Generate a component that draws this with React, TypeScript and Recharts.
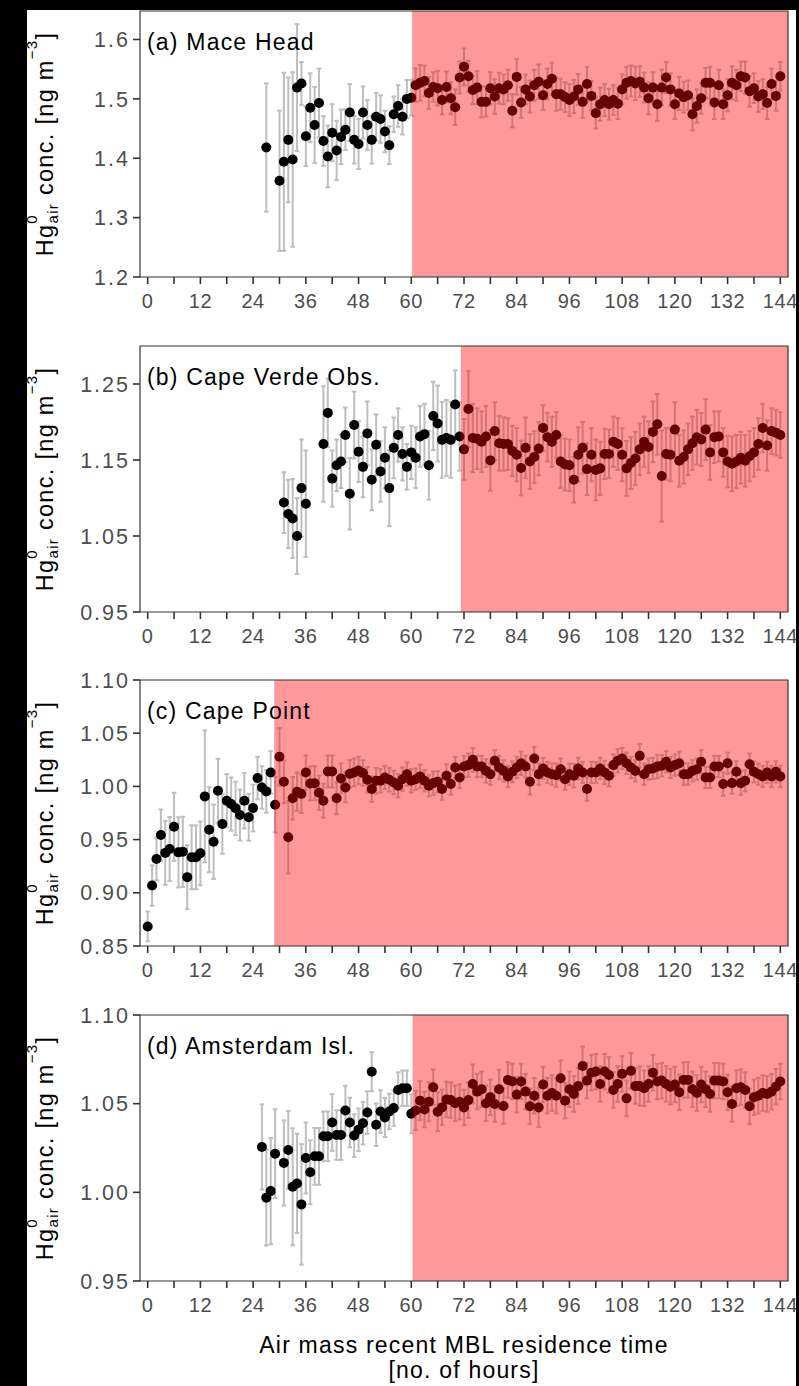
import React from 'react';
import { ScatterChart, Scatter, XAxis, YAxis, ErrorBar, ReferenceArea } from 'recharts';

const FONT = '"Liberation Sans", Arial, Helvetica, sans-serif';

// shared x axis (hours)
const hourTicks = [0, 6, 12, 18, 24, 30, 36, 42, 48, 54, 60, 66, 72, 78, 84, 90, 96, 102, 108, 114, 120, 126, 132, 138, 144];
const X_DOMAIN: [number, number] = [-1.75, 145.75];

// (a) Mace Head
const maceHours = [
  27, 30, 31, 32, 33, 34, 35, 36, 37, 38, 39, 40, 41, 42, 43, 44, 45, 46, 47, 48,
  49, 50, 51, 52, 53, 54, 55, 56, 57, 58, 59, 60, 61, 62, 63, 64, 65, 66, 67, 68,
  69, 70, 71, 72, 73, 74, 75, 76, 77, 78, 79, 80, 81, 82, 83, 84, 85, 86, 87, 88,
  89, 90, 91, 92, 93, 94, 95, 96, 97, 98, 99, 100, 101, 102, 103, 104, 105, 106, 107, 108,
  109, 110, 111, 112, 113, 114, 115, 116, 117, 118, 119, 120, 121, 122, 123, 124, 125, 126, 127, 128,
  129, 130, 131, 132, 133, 134, 135, 136, 137, 138, 139, 140, 141, 142, 143, 144,
];
const maceValues = [
  1.418, 1.362, 1.394, 1.431, 1.398, 1.519, 1.526, 1.437, 1.485, 1.456, 1.493, 1.429, 1.403, 1.443, 1.413, 1.436, 1.448, 1.477, 1.431, 1.424,
  1.477, 1.456, 1.431, 1.470, 1.466, 1.445, 1.422, 1.474, 1.488, 1.470, 1.500, 1.502, 1.523, 1.527, 1.530, 1.510, 1.520, 1.518, 1.498, 1.520,
  1.501, 1.486, 1.536, 1.554, 1.538, 1.515, 1.519, 1.495, 1.495, 1.518, 1.504, 1.518, 1.516, 1.523, 1.480, 1.537, 1.494, 1.516, 1.504, 1.523,
  1.529, 1.506, 1.525, 1.534, 1.508, 1.508, 1.503, 1.498, 1.504, 1.516, 1.495, 1.525, 1.505, 1.476, 1.491, 1.498, 1.491, 1.498, 1.492, 1.516,
  1.527, 1.530, 1.526, 1.529, 1.519, 1.501, 1.519, 1.491, 1.519, 1.536, 1.516, 1.491, 1.509, 1.503, 1.506, 1.474, 1.488, 1.501, 1.527, 1.527,
  1.494, 1.523, 1.491, 1.506, 1.527, 1.523, 1.538, 1.536, 1.513, 1.518, 1.504, 1.508, 1.493, 1.525, 1.505, 1.538,
];
const maceErrors = [
  0.108, 0.118, 0.150, 0.105, 0.147, 0.107, 0.036, 0.050, 0.058, 0.064, 0.058, 0.042, 0.052, 0.048, 0.050, 0.046, 0.034, 0.048, 0.040, 0.042,
  0.044, 0.042, 0.040, 0.040, 0.040, 0.035, 0.032, 0.030, 0.035, 0.030, 0.032, 0.030, 0.028, 0.030, 0.026, 0.027, 0.025, 0.029, 0.024, 0.026,
  0.027, 0.030, 0.027, 0.031, 0.026, 0.024, 0.028, 0.026, 0.025, 0.027, 0.029, 0.026, 0.025, 0.026, 0.028, 0.030, 0.026, 0.025, 0.027, 0.026,
  0.029, 0.025, 0.026, 0.027, 0.028, 0.026, 0.025, 0.027, 0.028, 0.026, 0.027, 0.029, 0.025, 0.026, 0.028, 0.027, 0.026, 0.025, 0.026, 0.025,
  0.027, 0.026, 0.028, 0.026, 0.025, 0.027, 0.026, 0.028, 0.030, 0.026, 0.027, 0.025, 0.028, 0.026, 0.025, 0.027, 0.028, 0.026, 0.025, 0.027,
  0.028, 0.026, 0.025, 0.027, 0.028, 0.026, 0.025, 0.027, 0.026, 0.025, 0.026, 0.025, 0.027, 0.026, 0.025, 0.024,
];

// (b) Cape Verde Obs.
const verdeHours = [
  31, 32, 33, 34, 35, 36, 40, 41, 42, 43, 44, 45, 46, 47, 48, 49, 50, 51, 52, 53,
  54, 55, 56, 57, 58, 59, 60, 61, 62, 63, 64, 65, 66, 67, 68, 69, 70, 71, 72, 73,
  74, 75, 76, 77, 78, 79, 80, 81, 82, 83, 84, 85, 86, 87, 88, 89, 90, 91, 92, 93,
  94, 95, 96, 97, 98, 99, 100, 101, 102, 103, 104, 105, 106, 107, 108, 109, 110, 111, 112, 113,
  114, 115, 116, 117, 118, 119, 120, 121, 122, 123, 124, 125, 126, 127, 128, 129, 130, 131, 132, 133,
  134, 135, 136, 137, 138, 139, 140, 141, 142, 143, 144,
];
const verdeValues = [
  1.094, 1.079, 1.073, 1.050, 1.113, 1.0925, 1.171, 1.212, 1.1255, 1.143, 1.148, 1.183, 1.1055, 1.196, 1.161, 1.141, 1.185, 1.124, 1.170, 1.135,
  1.153, 1.113, 1.166, 1.183, 1.158, 1.141, 1.160, 1.153, 1.181, 1.184, 1.143, 1.208, 1.198, 1.1765, 1.179, 1.1765, 1.223, 1.181, 1.164, 1.217,
  1.179, 1.178, 1.174, 1.181, 1.1495, 1.188, 1.172, 1.171, 1.171, 1.162, 1.157, 1.1395, 1.166, 1.148, 1.154, 1.165, 1.192, 1.180, 1.174, 1.183,
  1.148, 1.144, 1.143, 1.124, 1.157, 1.166, 1.138, 1.157, 1.137, 1.139, 1.158, 1.158, 1.174, 1.171, 1.157, 1.139, 1.146, 1.152, 1.164, 1.174,
  1.167, 1.187, 1.197, 1.129, 1.158, 1.157, 1.190, 1.149, 1.154, 1.164, 1.172, 1.180, 1.177, 1.190, 1.160, 1.180, 1.181, 1.160, 1.148, 1.145,
  1.148, 1.153, 1.149, 1.155, 1.160, 1.171, 1.192, 1.169, 1.188, 1.186, 1.183,
];
const verdeErrors = [
  0.040, 0.045, 0.052, 0.050, 0.064, 0.070, 0.076, 0.045, 0.037, 0.034, 0.035, 0.036, 0.047, 0.044, 0.040, 0.040, 0.042, 0.040, 0.040, 0.040,
  0.040, 0.050, 0.040, 0.035, 0.035, 0.030, 0.035, 0.040, 0.040, 0.040, 0.045, 0.045, 0.050, 0.050, 0.050, 0.050, 0.045, 0.045, 0.040, 0.050,
  0.045, 0.040, 0.040, 0.040, 0.040, 0.038, 0.036, 0.035, 0.034, 0.033, 0.035, 0.036, 0.040, 0.036, 0.034, 0.035, 0.030, 0.032, 0.033, 0.030,
  0.035, 0.034, 0.034, 0.030, 0.036, 0.034, 0.034, 0.035, 0.040, 0.035, 0.033, 0.032, 0.033, 0.034, 0.035, 0.036, 0.034, 0.035, 0.034, 0.033,
  0.034, 0.040, 0.040, 0.060, 0.034, 0.035, 0.036, 0.034, 0.035, 0.034, 0.035, 0.036, 0.035, 0.040, 0.036, 0.034, 0.033, 0.032, 0.034, 0.036,
  0.035, 0.034, 0.034, 0.033, 0.032, 0.034, 0.032, 0.033, 0.030, 0.030, 0.030,
];

// (c) Cape Point
const pointHours = [
  0, 1, 2, 3, 4, 5, 6, 7, 8, 9, 10, 11, 12, 13, 14, 15, 16, 17, 18, 19,
  20, 21, 22, 23, 24, 25, 26, 27, 28, 29, 30, 31, 32, 33, 34, 35, 36, 37, 38, 39,
  40, 41, 42, 43, 44, 45, 46, 47, 48, 49, 50, 51, 52, 53, 54, 55, 56, 57, 58, 59,
  60, 61, 62, 63, 64, 65, 66, 67, 68, 69, 70, 71, 72, 73, 74, 75, 76, 77, 78, 79,
  80, 81, 82, 83, 84, 85, 86, 87, 88, 89, 90, 91, 92, 93, 94, 95, 96, 97, 98, 99,
  100, 101, 102, 103, 104, 105, 106, 107, 108, 109, 110, 111, 112, 113, 114, 115, 116, 117, 118, 119,
  120, 121, 122, 123, 124, 125, 126, 127, 128, 129, 130, 131, 132, 133, 134, 135, 136, 137, 138, 139,
  140, 141, 142, 143, 144,
];
const pointValues = [
  0.8684, 0.9068, 0.9318, 0.9543, 0.9375, 0.9412, 0.962, 0.938, 0.9385, 0.9147, 0.9334, 0.9334, 0.9371, 0.9906, 0.9593, 0.948, 0.9959, 0.9647, 0.9865, 0.9834,
  0.9794, 0.9731, 0.9865, 0.971, 0.9797, 1.0078, 0.999, 0.9953, 1.0131, 0.9828, 1.0278, 1.0043, 0.9522, 0.9888, 0.995, 0.993, 1.0131, 1.0028, 1.003, 0.994,
  0.9865, 1.014, 1.014, 0.9888, 1.0075, 0.999, 1.0118, 1.0131, 1.015, 1.0125, 1.0062, 0.9975, 1.0053, 1.0053, 1.0084, 1.0062, 1.0037, 1.0006, 1.0068, 1.0115,
  1.0053, 1.0068, 1.0094, 1.0053, 1.0006, 1.0031, 1.0043, 0.9975, 1.010, 1.0022, 1.0178, 1.0084, 1.0187, 1.020, 1.025, 1.0187, 1.0187, 1.0146, 1.0115, 1.024,
  1.0178, 1.0146, 1.0094, 1.0137, 1.0178, 1.0218, 1.0187, 1.0043, 1.0262, 1.0115, 1.0169, 1.0131, 1.0115, 1.0106, 1.0162, 1.0068, 1.0115, 1.010, 1.0169, 1.0131,
  0.9975, 1.0131, 1.0131, 1.0169, 1.0131, 1.010, 1.020, 1.024, 1.0262, 1.0218, 1.0178, 1.0146, 1.0287, 1.0115, 1.0162, 1.0169, 1.0187, 1.0194, 1.0231, 1.0178,
  1.020, 1.0218, 1.0115, 1.0115, 1.0146, 1.0162, 1.0231, 1.0084, 1.0084, 1.0187, 1.0187, 1.0022, 1.0218, 1.0031, 1.0137, 1.0031, 1.0053, 1.0209, 1.0137, 1.0115,
  1.0094, 1.0131, 1.0094, 1.0137, 1.0094,
];
const pointErrors = [
  0.014, 0.019, 0.020, 0.024, 0.030, 0.030, 0.032, 0.033, 0.033, 0.030, 0.030, 0.030, 0.030, 0.062, 0.040, 0.035, 0.030, 0.028, 0.025, 0.025,
  0.025, 0.024, 0.026, 0.022, 0.022, 0.020, 0.020, 0.020, 0.020, 0.026, 0.027, 0.020, 0.034, 0.020, 0.018, 0.018, 0.016, 0.016, 0.016, 0.016,
  0.016, 0.015, 0.015, 0.015, 0.014, 0.014, 0.013, 0.013, 0.013, 0.012, 0.012, 0.012, 0.012, 0.011, 0.011, 0.011, 0.011, 0.011, 0.011, 0.011,
  0.011, 0.010, 0.011, 0.010, 0.010, 0.011, 0.010, 0.010, 0.011, 0.010, 0.010, 0.010, 0.010, 0.011, 0.011, 0.010, 0.010, 0.011, 0.010, 0.010,
  0.011, 0.010, 0.010, 0.010, 0.010, 0.011, 0.010, 0.012, 0.011, 0.010, 0.010, 0.010, 0.010, 0.011, 0.010, 0.010, 0.010, 0.011, 0.010, 0.010,
  0.011, 0.010, 0.010, 0.010, 0.011, 0.010, 0.010, 0.011, 0.010, 0.010, 0.010, 0.010, 0.011, 0.010, 0.010, 0.010, 0.011, 0.010, 0.010, 0.010,
  0.010, 0.011, 0.010, 0.010, 0.010, 0.010, 0.011, 0.010, 0.010, 0.010, 0.010, 0.011, 0.010, 0.010, 0.010, 0.011, 0.010, 0.010, 0.010, 0.010,
  0.010, 0.010, 0.010, 0.010, 0.010,
];

// (d) Amsterdam Isl.
const amsHours = [
  26, 27, 28, 29, 31, 32, 33, 34, 35, 36, 37, 38, 39, 40, 41, 42, 43, 44, 45, 46,
  47, 48, 49, 50, 51, 52, 53, 54, 55, 56, 57, 58, 59, 60, 61, 62, 63, 64, 65, 66,
  67, 68, 69, 70, 71, 72, 73, 74, 75, 76, 77, 78, 79, 80, 81, 82, 83, 84, 85, 86,
  87, 88, 89, 90, 91, 92, 93, 94, 95, 96, 97, 98, 99, 100, 101, 102, 103, 104, 105, 106,
  107, 108, 109, 110, 111, 112, 113, 114, 115, 116, 117, 118, 119, 120, 121, 122, 123, 124, 125, 126,
  127, 128, 129, 130, 131, 132, 133, 134, 135, 136, 137, 138, 139, 140, 141, 142, 143, 144,
];
const amsValues = [
  1.0256, 0.997, 1.0007, 1.0218, 1.0166, 1.0239, 1.0031, 1.005, 0.9932, 1.0194, 1.0113, 1.0203, 1.0203, 1.0316, 1.0316, 1.0394, 1.0323, 1.0323, 1.0461, 1.0394,
  1.032, 1.0353, 1.039, 1.045, 1.068, 1.0381, 1.0456, 1.0422, 1.0456, 1.0475, 1.0577, 1.0587, 1.0587, 1.0443, 1.0461, 1.0517, 1.0467, 1.0511, 1.0593, 1.0455,
  1.0479, 1.0524, 1.052, 1.0502, 1.0511, 1.0479, 1.052, 1.0611, 1.0568, 1.0581, 1.0502, 1.0536, 1.0498, 1.0581, 1.0487, 1.0634, 1.0625, 1.0551, 1.0625, 1.0568,
  1.0485, 1.0545, 1.0479, 1.0608, 1.0545, 1.056, 1.0545, 1.0643, 1.0517, 1.0581, 1.0555, 1.0599, 1.0712, 1.063, 1.0675, 1.0681, 1.0611, 1.0681, 1.0662, 1.0577,
  1.0611, 1.0668, 1.053, 1.0685, 1.0599, 1.0599, 1.0587, 1.0611, 1.0675, 1.0625, 1.063, 1.0611, 1.0596, 1.0608, 1.0564, 1.0634, 1.0634, 1.0581, 1.056, 1.0608,
  1.0581, 1.0555, 1.063, 1.063, 1.0625, 1.0564, 1.0498, 1.0587, 1.0593, 1.0577, 1.0485, 1.0536, 1.0545, 1.056, 1.0555, 1.0568, 1.0596, 1.0625,
];
const amsErrors = [
  0.024, 0.027, 0.030, 0.025, 0.024, 0.022, 0.033, 0.028, 0.034, 0.020, 0.018, 0.016, 0.016, 0.014, 0.014, 0.016, 0.014, 0.014, 0.014, 0.014,
  0.012, 0.012, 0.012, 0.012, 0.011, 0.012, 0.012, 0.011, 0.010, 0.010, 0.010, 0.010, 0.010, 0.011, 0.011, 0.011, 0.010, 0.011, 0.010, 0.011,
  0.010, 0.010, 0.010, 0.010, 0.010, 0.010, 0.010, 0.011, 0.010, 0.010, 0.010, 0.010, 0.010, 0.011, 0.010, 0.010, 0.010, 0.010, 0.010, 0.010,
  0.010, 0.010, 0.011, 0.010, 0.010, 0.010, 0.010, 0.010, 0.010, 0.010, 0.010, 0.010, 0.011, 0.010, 0.010, 0.010, 0.010, 0.010, 0.010, 0.010,
  0.010, 0.010, 0.010, 0.010, 0.010, 0.011, 0.010, 0.010, 0.010, 0.010, 0.010, 0.010, 0.010, 0.010, 0.010, 0.010, 0.010, 0.010, 0.010, 0.010,
  0.010, 0.010, 0.010, 0.010, 0.010, 0.010, 0.010, 0.010, 0.010, 0.010, 0.010, 0.010, 0.010, 0.010, 0.010, 0.010, 0.010, 0.010,
];

const Dot = (p: any) => <circle cx={p.cx} cy={p.cy} r={5} fill="#000" />;

type PanelProps = {
  top: number;
  hours: number[];
  values: number[];
  errors: number[];
  yDomain: [number, number];
  yTicks: number[];
  digits: number;
  shadeFrom: number;
};

const Panel = ({ top, hours, values, errors, yDomain, yTicks, digits, shadeFrom }: PanelProps) => {
  const data = hours.map((h, i) => ({ h, v: values[i], e: errors[i] }));
  return (
    <div style={{ position: 'absolute', left: 0, top }}>
      <ScatterChart width={799} height={335} margin={{ top: 11, right: 11, bottom: 18, left: 0 }}>
        <XAxis
          type="number"
          dataKey="h"
          domain={X_DOMAIN}
          allowDataOverflow
          ticks={hourTicks}
          interval={0}
          height={40}
          axisLine={false}
          tickSize={7}
          tickMargin={10}
          tickLine={{ stroke: '#333', strokeWidth: 1.6 }}
          tick={{ fill: '#4d4d4d', fontSize: 20, letterSpacing: 0.6, fontFamily: FONT }}
          tickFormatter={(v: number) => (v % 12 === 0 ? String(v) : '')}
        />
        <YAxis
          type="number"
          dataKey="v"
          domain={yDomain}
          allowDataOverflow
          ticks={yTicks}
          interval={0}
          width={140}
          axisLine={false}
          tickSize={7}
          tickMargin={3}
          tickLine={{ stroke: '#333', strokeWidth: 1.6 }}
          tick={{ fill: '#4d4d4d', fontSize: 21.5, letterSpacing: 2, fontFamily: FONT }}
          tickFormatter={(v: number) => v.toFixed(digits)}
        />
        <Scatter data={data} isAnimationActive={false} shape={Dot}>
          <ErrorBar dataKey="e" direction="y" width={2.3} stroke="#bebebe" strokeWidth={2} />
        </Scatter>
        {/* translucent red shading drawn over the points */}
        <ReferenceArea
          x1={shadeFrom}
          x2={X_DOMAIN[1]}
          y1={yDomain[0]}
          y2={yDomain[1]}
          fill="#ff0000"
          fillOpacity={0.4}
          stroke="none"
          zIndex={700}
        />
        <ReferenceArea
          x1={X_DOMAIN[0]}
          x2={X_DOMAIN[1]}
          y1={yDomain[0]}
          y2={yDomain[1]}
          fill="none"
          fillOpacity={0}
          stroke="#333"
          strokeWidth={1.2}
          zIndex={710}
        />
      </ScatterChart>
    </div>
  );
};

const panels = [
  { top: 0, label: '(a) Mace Head', hours: maceHours, values: maceValues, errors: maceErrors, yDomain: [1.2, 1.648] as [number, number], yTicks: [1.2, 1.3, 1.4, 1.5, 1.6], digits: 1, shadeFrom: 60.2 },
  { top: 335, label: '(b) Cape Verde Obs.', hours: verdeHours, values: verdeValues, errors: verdeErrors, yDomain: [0.95, 1.3] as [number, number], yTicks: [0.95, 1.05, 1.15, 1.25], digits: 2, shadeFrom: 71.3 },
  { top: 669, label: '(c) Cape Point', hours: pointHours, values: pointValues, errors: pointErrors, yDomain: [0.85, 1.1] as [number, number], yTicks: [0.85, 0.9, 0.95, 1.0, 1.05, 1.1], digits: 2, shadeFrom: 28.8 },
  { top: 1004, label: '(d) Amsterdam Isl.', hours: amsHours, values: amsValues, errors: amsErrors, yDomain: [0.95, 1.1] as [number, number], yTicks: [0.95, 1.0, 1.05, 1.1], digits: 2, shadeFrom: 60.3 },
];

const YTitle = ({ cy }: { cy: number }) => (
  <text
    x={53}
    y={cy}
    transform={`rotate(-90 53 ${cy})`}
    textAnchor="middle"
    fontSize={23.5}
    letterSpacing={1.3}
    fontFamily={FONT}
    fill="#000"
  >
    Hg
    <tspan fontSize={15} dy={-16}>0</tspan>
    <tspan fontSize={15} dx={-9.5} dy={21}>air</tspan>
    <tspan dy={-5}> conc. [ng m</tspan>
    <tspan fontSize={15} dy={-16}>−3</tspan>
    <tspan dy={16}>]</tspan>
  </text>
);

export default function App() {
  return (
    <div style={{ position: 'absolute', left: 0, top: 0, width: 799, height: 1386, background: '#fff', overflow: 'hidden' }}>
      {panels.map((p) => (
        <Panel key={p.label} {...p} />
      ))}
      <svg width={799} height={1386} style={{ position: 'absolute', left: 0, top: 0, pointerEvents: 'none' }}>
        {panels.map((p) => (
          <g key={p.label}>
            <text x={147} y={p.top + 11 + 38.5} fontSize={23} letterSpacing={1.2} fontFamily={FONT} fill="#000">
              {p.label}
            </text>
            <YTitle cy={p.top + 11 + 133} />
          </g>
        ))}
        <text x={464} y={1353} textAnchor="middle" fontSize={23} letterSpacing={1.2} fontFamily={FONT} fill="#000">
          Air mass recent MBL residence time
        </text>
        <text x={464} y={1378} textAnchor="middle" fontSize={23} letterSpacing={1.2} fontFamily={FONT} fill="#000">
          [no. of hours]
        </text>
      </svg>
      <div style={{ position: 'absolute', left: 0, top: 0, width: 27, height: 1386, background: '#000' }} />
      <div style={{ position: 'absolute', left: 0, top: 0, width: 799, height: 10, background: '#000' }} />
      <div style={{ position: 'absolute', left: 796, top: 0, width: 3, height: 1386, background: '#000' }} />
    </div>
  );
}
